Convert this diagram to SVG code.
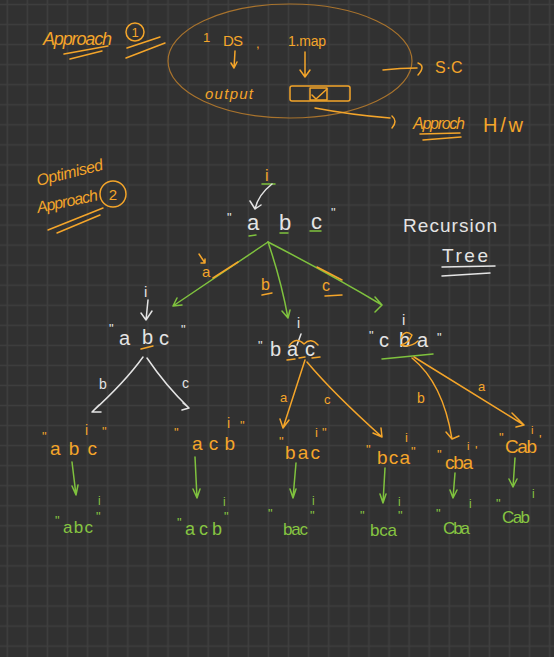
<svg xmlns="http://www.w3.org/2000/svg" width="554" height="657" viewBox="0 0 554 657">
<defs>
<pattern id="grid" width="20.09" height="20.05" patternUnits="userSpaceOnUse" x="-2.7" y="-5.5">
<path d="M0 10H20.09M10 0V20.05" stroke="#3e3e3e" stroke-width="1.6" fill="none"/>
</pattern>
</defs>
<style>
text{font-family:"Liberation Sans","DejaVu Sans",sans-serif}
.o{fill:#f4a52a}
.w{fill:#e4e4e4}
.g{fill:#86c541}
.so{stroke:#f4a52a;fill:none;stroke-width:1.5;stroke-linecap:round;stroke-linejoin:round}
.sw{stroke:#e4e4e4;fill:none;stroke-width:1.5;stroke-linecap:round;stroke-linejoin:round}
.sg{stroke:#7fc23e;fill:none;stroke-width:1.5;stroke-linecap:round;stroke-linejoin:round}
.q{font-size:13px}
</style>
<rect width="554" height="657" fill="#313131"/>
<rect width="554" height="657" fill="url(#grid)"/>

<g id="approach1">
<text class="o" x="43" y="45" font-size="18" font-style="italic" textLength="69">Approach</text>
<circle class="so" cx="135" cy="32" r="9"/>
<text class="o" x="135" y="37" font-size="13" text-anchor="middle">1</text>
<path class="so" d="M64 54L108 46M70 59L102 51M127 48L160 37M126 58L165 43"/>
</g>

<g id="sc-ellipse">
<ellipse cx="290" cy="61" rx="122" ry="57" fill="none" stroke="#a8732d" stroke-width="1.2"/>
<text class="o" x="203" y="42" font-size="13">1</text>
<text class="o" x="223" y="46" font-size="15" textLength="20">DS</text>
<text class="o" x="256" y="48" font-size="13">,</text>
<text class="o" x="288" y="46" font-size="14" textLength="38">1.map</text>
<text class="o" x="205" y="99" font-size="15" font-style="italic" textLength="48">output</text>
<rect class="so" x="290" y="86" width="60" height="15" rx="2" stroke-width="1.8"/>
<rect class="so" x="310" y="88" width="17" height="12"/>
<path class="so" d="M312 95L316 99L327 89" stroke-width="3"/>
</g>

<g id="sc-label">
<text class="o" x="435" y="73" font-size="16">S·C</text>
</g>
<g id="hw-label">
<text class="o" x="413" y="129" font-size="16" font-style="italic" textLength="52">Approch</text>
<path class="so" d="M420 134L460 133M423 140L461 137"/>
<text class="o" x="483" y="132" font-size="20" textLength="40">H/w</text>
</g>

<g id="approach2">
<text class="o" x="38" y="186" font-size="16" font-style="italic" textLength="68" transform="rotate(-14 38 186)">Optimised</text>
<text class="o" x="38" y="213" font-size="16" font-style="italic" textLength="62" transform="rotate(-12 38 213)">Approach</text>
<circle class="so" cx="113" cy="194" r="13"/>
<text class="o" x="113" y="200" font-size="15" text-anchor="middle">2</text>
<path class="so" d="M48 230L103 208M57 233L100 215"/>
</g>

<g id="recursion-title">
<text class="w" x="403" y="232" font-size="19" textLength="94">Recursion</text>
<text class="w" x="442" y="262" font-size="19" textLength="46">Tree</text>
<path class="sw" d="M442 267L495 266M442 276L490 273"/>
</g>

<g id="root">
<text class="o" x="265" y="181" font-size="16">i</text>
<path class="sg" d="M262 184H275" stroke-width="2"/>
<path class="sw" d="M272 184Q258 195 255 209M250 201L255 209L261 205"/>
<text class="w q" x="227" y="222">"</text>
<text class="w" x="247" y="230" font-size="22">a</text>
<text class="w" x="279" y="230" font-size="22">b</text>
<text class="w" x="311" y="229" font-size="22">c</text>
<text class="w q" x="331" y="217">"</text>
<path class="sg" d="M249 236L256 235M280 233H288M310 231H321" stroke-width="2"/>
</g>

<g id="child-abc">
<text class="w" x="144" y="297" font-size="15">i</text>
<path class="sw" d="M148 300L146 320M141 313L146 320L152 311"/>
<text class="w q" x="109" y="333">"</text>
<text class="w" x="119" y="345" font-size="20">a</text>
<text class="w" x="142" y="344" font-size="20">b</text>
<text class="w" x="159" y="345" font-size="20">c</text>
<text class="w q" x="181" y="334">"</text>
<path class="so" d="M141 349L153 346" stroke-width="3.5"/>
</g>

<g id="child-bac">
<text class="w" x="297" y="328" font-size="14">i</text>
<path class="sw" d="M301 334L297 345"/>
<text class="w q" x="258" y="350">"</text>
<text class="w" x="270" y="356" font-size="20">b</text>
<text class="w" x="287" y="356" font-size="20">a</text>
<text class="w" x="305" y="356" font-size="20">c</text>
<path class="so" d="M289 346Q296 336 304 344Q311 337 318 345" stroke-width="1.1"/>
<path class="so" d="M287 360L295 359M299 358L305 357M312 358L320 357" stroke-width="2"/>
</g>

<g id="child-cba">
<text class="w" x="402" y="325" font-size="15">i</text>
<text class="w q" x="369" y="340">"</text>
<text class="w" x="379" y="347" font-size="20">c</text>
<text class="w" x="399" y="347" font-size="20">b</text>
<text class="w" x="417" y="347" font-size="20">a</text>
<text class="w q" x="437" y="342">"</text>
<path class="so" d="M401 338Q405 329 412 335Q409 343 401 345Q410 348 418 341" stroke-width="1.1"/>
<path class="sg" d="M382 359L433 354" stroke-width="3.5"/>
</g>

<g id="connectors">
<path class="sg" d="M268 242L173 306M182 305L173 306L177 298"/>
<path class="sg" d="M268 242Q281 280 288 318M282 311L288 318L290 310"/>
<path class="sg" d="M268 242Q330 274 382 305M375 297L382 305L375 312"/>
<path class="so" d="M213 278L238 262M317 267L342 280" stroke-width="2"/>
<path class="sw" d="M143 357Q125 382 92 412M99 405L92 412L101 412"/>
<path class="sw" d="M147 358Q166 386 189 408M183 403L189 408L182 410"/>
<path class="so" d="M305 360L283 428M280 419L283 428L289 420"/>
<path class="so" d="M307 362Q333 393 382 437M373 433L382 437L381 428"/>
<path class="so" d="M412 358Q443 383 452 439M446 432L452 439L459 436"/>
<path class="so" d="M414 357L524 425M512 413L524 425L516 427"/>
<path class="so" d="M383 70Q400 68 417 68M418 63Q426 66 418 75"/>
<path class="so" d="M315 108Q352 115 390 118M392 116Q398 121 392 128"/>
<path class="so" d="M235 51L234 68M231 63L234 68L237 62"/>
<path class="so" d="M305 52L305 77M300 70L305 77L310 70"/>
<path class="sg" d="M72 462L76 495M72 486L76 495L78 485"/>
<path class="sg" d="M195 457L197 498M193 489L197 498L200 489"/>
<path class="sg" d="M296 463L293 498M290 489L293 498L296 489"/>
<path class="sg" d="M385 468L383 503M380 494L383 503L386 494"/>
<path class="sg" d="M455 473L453 498M450 490L453 498L457 490"/>
<path class="sg" d="M515 458L513 487M509 479L513 487L517 479"/>
</g>

<g id="edge-labels">
<path class="so" d="M199 254L205 263M201 263H205V259" stroke-width="1.2"/>
<text class="o" x="202" y="277" font-size="15">a</text>
<text class="o" x="261" y="290" font-size="16">b</text>
<path class="so" d="M262 295L272 293" stroke-width="2"/>
<text class="o" x="322" y="291" font-size="16">c</text>
<path class="so" d="M325 296L342 295" stroke-width="2"/>
<text class="w" x="99" y="389" font-size="14">b</text>
<text class="w" x="182" y="388" font-size="14">c</text>
<text class="o" x="280" y="402" font-size="13">a</text>
<text class="o" x="324" y="404" font-size="13">c</text>
<text class="o" x="417" y="403" font-size="14">b</text>
<text class="o" x="478" y="391" font-size="13">a</text>
</g>

<g id="leaf-abc">
<text class="o q" x="42" y="441">"</text>
<text class="o" x="85" y="435" font-size="14">i</text>
<text class="o q" x="102" y="436">"</text>
<text class="o" x="50" y="455" font-size="19" textLength="47">abc</text>
</g>
<g id="leaf-acb">
<text class="o q" x="174" y="437">"</text>
<text class="o" x="227" y="428" font-size="14">i</text>
<text class="o q" x="240" y="430">"</text>
<text class="o" x="192" y="450" font-size="19" textLength="43">acb</text>
</g>
<g id="leaf-bac">
<text class="o q" x="279" y="446">"</text>
<text class="o" x="315" y="437" font-size="13">i</text>
<text class="o q" x="322" y="437">"</text>
<text class="o" x="285" y="459" font-size="19" textLength="35">bac</text>
</g>
<g id="leaf-bca">
<text class="o q" x="366" y="454">"</text>
<text class="o" x="405" y="442" font-size="13">i</text>
<text class="o q" x="411" y="456">"</text>
<text class="o" x="377" y="464" font-size="19" textLength="33">bca</text>
</g>
<g id="leaf-cba">
<text class="o q" x="437" y="459">"</text>
<text class="o" x="467" y="450" font-size="11">i</text>
<text class="o q" x="475" y="455">'</text>
<text class="o" x="445" y="469" font-size="19" textLength="28">cba</text>
</g>
<g id="leaf-cab">
<text class="o q" x="499" y="442">"</text>
<text class="o" x="531" y="434" font-size="11">i</text>
<text class="o q" x="539" y="444">'</text>
<text class="o" x="505" y="453" font-size="19" textLength="32">Cab</text>
</g>

<g id="res-abc">
<text class="g" x="98" y="505" font-size="12">i</text>
<text class="g q" x="55" y="525">"</text>
<text class="g" x="63" y="533" font-size="17" textLength="30">abc</text>
<text class="g q" x="96" y="521">"</text>
</g>
<g id="res-acb">
<text class="g" x="223" y="506" font-size="12">i</text>
<text class="g q" x="177" y="527">"</text>
<text class="g" x="185" y="535" font-size="18" textLength="37">acb</text>
<text class="g q" x="224" y="521">"</text>
</g>
<g id="res-bac">
<text class="g" x="312" y="505" font-size="12">i</text>
<text class="g q" x="268" y="518">"</text>
<text class="g" x="283" y="535" font-size="17" textLength="25">bac</text>
<text class="g q" x="310" y="520">"</text>
</g>
<g id="res-bca">
<text class="g" x="398" y="506" font-size="12">i</text>
<text class="g q" x="360" y="520">"</text>
<text class="g" x="370" y="536" font-size="17" textLength="27">bca</text>
<text class="g q" x="398" y="520">"</text>
</g>
<g id="res-cba">
<text class="g" x="469" y="508" font-size="12">i</text>
<text class="g q" x="436" y="518">"</text>
<text class="g" x="443" y="534" font-size="17" textLength="27">Cba</text>
</g>
<g id="res-cab">
<text class="g" x="532" y="498" font-size="12">i</text>
<text class="g q" x="496" y="508">"</text>
<text class="g" x="502" y="523" font-size="17" textLength="28">Cab</text>
</g>
</svg>
